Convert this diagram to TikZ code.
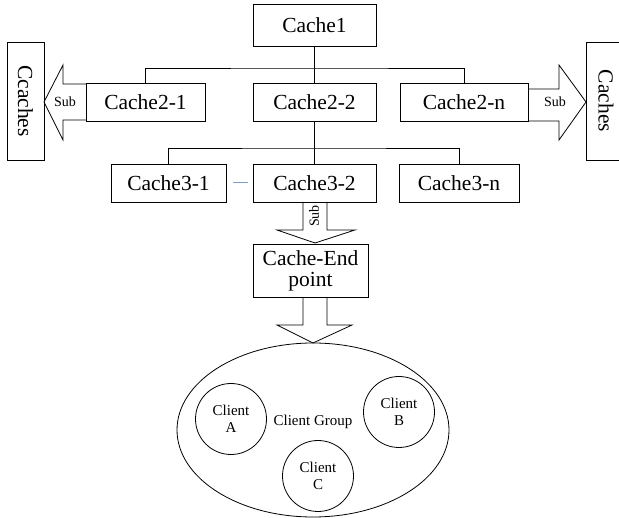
\documentclass[tikz,border=0pt]{standalone}
\usepackage{fontspec}
\setmainfont{Liberation Serif}
\usepackage{tikz}
\usetikzlibrary{shapes.geometric}
\definecolor{linkblue}{RGB}{118,158,206}
\newcommand{\bigtxt}{\fontsize{21.5}{23}\selectfont}
\newcommand{\subtxt}{\fontsize{14}{15}\selectfont}
\newcommand{\clienttxt}{\fontsize{15}{17}\selectfont}

\begin{document}
\begin{tikzpicture}[x=1pt,y=-1pt,line width=0.8pt,
    cachebox/.style={draw,inner sep=0pt,font=\bigtxt,minimum height=38pt},
    sidebox/.style={draw,inner sep=0pt,font=\bigtxt,rotate=-90,minimum width=118pt,minimum height=37pt},
    clientnode/.style={draw,circle,inner sep=0pt,minimum size=71pt,align=center,font=\clienttxt},
    sublabel/.style={font=\subtxt,inner sep=0pt}]
    \useasboundingbox (0,0) rectangle (619,518);
    % --- TREE OF CACHES ---
    \node[cachebox,minimum width=123pt,minimum height=42pt] (cache1) at (314.5,25) {Cache1};
    \node[cachebox,minimum width=119pt] (cache21) at (145.5,102) {Cache2-1};
    \node[cachebox,minimum width=123pt] (cache22) at (314.5,102) {Cache2-2};
    \node[cachebox,minimum width=128pt] (cache2n) at (464,102) {Cache2-n};
    \node[cachebox,minimum width=115pt] (cache31) at (168.5,183) {Cache3-1};
    \node[cachebox,minimum width=123pt] (cache32) at (314.5,183) {Cache3-2};
    \node[cachebox,minimum width=120pt] (cache3n) at (459,183) {Cache3-n};
    \node[cachebox,minimum width=115pt,minimum height=53pt,align=center] (endpt) at (310.5,270.5) {Cache-End\\[-2pt]point};
    \coordinate (bus1) at (314.5,68);
    \coordinate (bus2) at (314.5,148);
    \draw (cache1.south) -- (cache22.north);
    \draw (cache21.north) |- (bus1) -| (cache2n.north);
    \draw (cache22.south) -- (cache32.north);
    \draw (cache31.north) |- (bus2) -| (cache3n.north);
    \draw[linkblue,line width=1pt,shorten <=7pt,shorten >=5pt] (cache31.east) -- (cache32.west);

    % --- SIDE CACHES ---
    \node[sidebox] (ccaches) at (25.5,101) {Ccaches};
    \node[sidebox,minimum height=40pt] (caches) at (606,101) {Caches};
    \draw (86,84) -- (63,84) -- (63,65) -- (44,102) -- (63,140) -- (63,120) -- (86,120);
    \draw (528,89) -- (559,89) -- (559,65) -- (586,102) -- (559,140) -- (559,121) -- (528,121);
    \node[sublabel] (subL) at (65,102) {Sub};
    \node[sublabel] (subR) at (555,102) {Sub};

    % --- DOWN TO THE CLIENTS ---
    \draw (303,202) -- (303,230) -- (277,230) -- (315,243) -- (355,230) -- (327,230) -- (327,202);
    \node[sublabel,rotate=90] (subD) at (314,216) {Sub};
    \draw (303,297) -- (303,325) -- (277,325) -- (313,343) -- (352,325) -- (327,325) -- (327,297);
    \node[draw,ellipse,inner sep=0pt,minimum width=272pt,minimum height=174pt] (group) at (313,430) {};
    \node[font=\clienttxt,inner sep=0pt] (grouplbl) at (313,422) {Client Group};
    \node[clientnode] (clientA) at (231,419) {Client\\A};
    \node[clientnode] (clientB) at (399,412) {Client\\B};
    \node[clientnode] (clientC) at (318,476) {Client\\C};
\end{tikzpicture}
\end{document}
